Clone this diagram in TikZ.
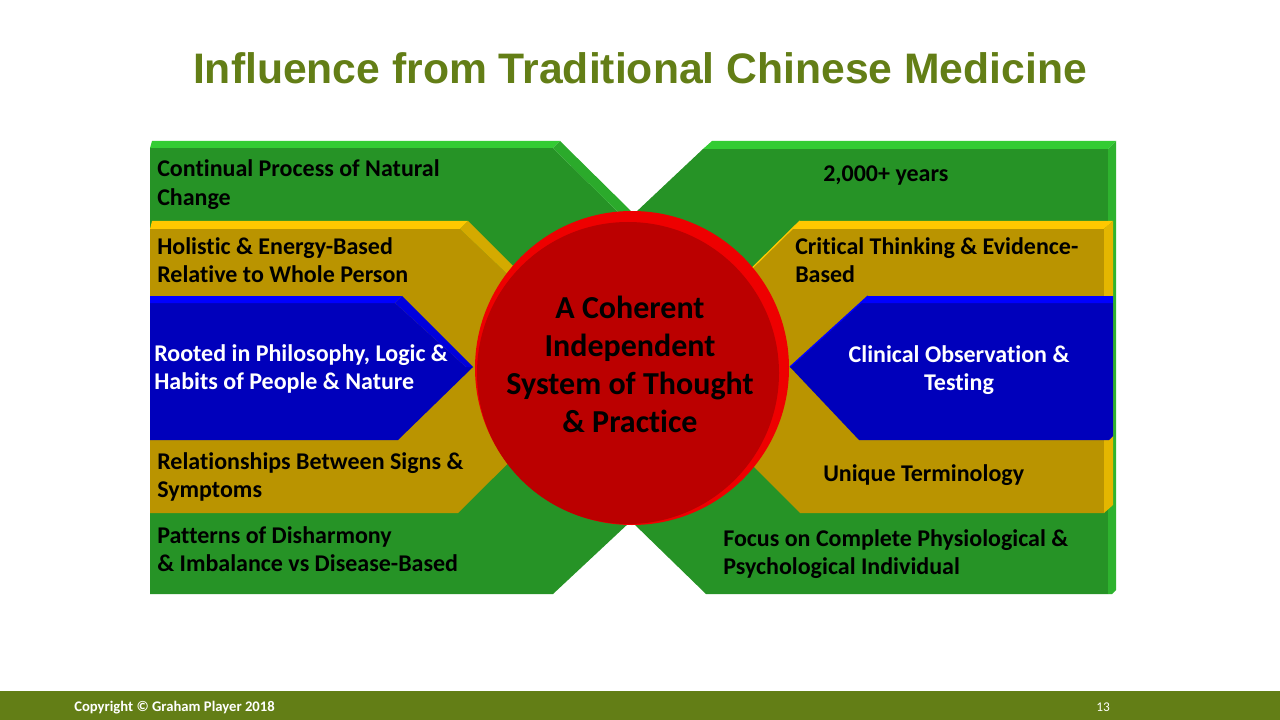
\documentclass[tikz,border=0pt]{standalone}
\usepackage{fontspec}
\setmainfont{Carlito}[Ligatures=NoCommon]
\newfontfamily\titlefont{Liberation Sans}
\definecolor{olive}{RGB}{99,126,22}
\definecolor{gface}{RGB}{38,147,38}
\definecolor{gtop}{RGB}{51,204,51}
\definecolor{gdiag}{RGB}{43,170,43}
\definecolor{gside}{RGB}{46,179,46}
\definecolor{yface}{RGB}{186,148,0}
\definecolor{ytop}{RGB}{255,200,0}
\definecolor{ydiag}{RGB}{212,170,0}
\definecolor{yside}{RGB}{228,182,0}
\definecolor{bface}{RGB}{0,0,187}
\definecolor{btop}{RGB}{0,0,255}
\definecolor{bdiag}{RGB}{0,0,221}
\definecolor{rrim}{RGB}{238,0,0}
\definecolor{rface}{RGB}{187,0,0}
\newcommand\linesL[1]{\begin{tabular}[t]{@{}l@{}}#1\end{tabular}}
\newcommand\linesC[1]{\begin{tabular}[t]{@{}c@{}}#1\end{tabular}}
\tikzset{
  boxtext/.style={anchor=base west, inner sep=0pt, text=black,
    font=\fontsize{18}{21.6}\selectfont\bfseries},
  boxtextw/.style={boxtext, text=white},
  centertext/.style={anchor=base, inner sep=0pt, text=black,
    font=\fontsize{24}{28.5}\selectfont\bfseries},
  titletext/.style={anchor=base, inner sep=0pt, text=olive,
    font=\titlefont\fontsize{32}{38}\selectfont\bfseries},
  foottext/.style={anchor=base west, inner sep=0pt, text=white,
    font=\fontsize{11}{13}\selectfont\bfseries},
}
\begin{document}
\begin{tikzpicture}[x=0.75pt,y=-0.75pt]
\useasboundingbox (0,0) rectangle (1280,720);
\fill[white] (0,0) rectangle (1280,720);

% title
\node[titletext] (title) at (640,84) {Influence from Traditional Chinese Medicine};

% left green
\fill[gface] (150,148) -- (553,148) -- (628,222) -- (632,368) -- (630,522) -- (553,594) -- (150,594) -- cycle;
\fill[gtop] (150,148) -- (152,141) -- (560,141) -- (553,148) -- cycle;
\fill[gdiag] (560,141) -- (633,213) -- (627,221) -- (553,148) -- cycle;

% right green
\fill[gface] (703,149) -- (1108,149) -- (1108,594) -- (706,594) -- (632,522) -- (632,368) -- (635,213) -- cycle;
\fill[gtop] (712,141) -- (1116,141) -- (1108,149) -- (703,149) -- cycle;
\fill[gside] (1108,149) -- (1116,141) -- (1116,590) -- (1112,594) -- (1108,594) -- cycle;

% left gold
\fill[yface] (150,229) -- (460,229) -- (605,367) -- (458,513) -- (150,513) -- cycle;
\fill[ytop] (150,229) -- (152,221) -- (468,221) -- (460,229) -- cycle;
\fill[ydiag] (468,221) -- (614,367) -- (605,367) -- (460,229) -- cycle;

% right gold
\fill[yface] (792,229) -- (1104,229) -- (1104,513) -- (800,513) -- (654,367) -- cycle;
\fill[ytop] (800,221) -- (1113,221) -- (1104,229) -- (792,229) -- cycle;
\fill[yside] (1104,229) -- (1113,221) -- (1113,505) -- (1104,513) -- cycle;
\draw[ytop, line width=1pt] (800,221) -- (740,280);

% left blue
\fill[bface] (150,303) -- (395,303) -- (466,367) -- (473,367) -- (398,440) -- (150,440) -- cycle;
\fill[btop] (150,303) -- (150,296) -- (402,296) -- (395,303) -- cycle;
\fill[bdiag] (402,296) -- (473,367) -- (466,367) -- (395,303) -- cycle;

% right blue
\fill[bface] (860,303) -- (1113,303) -- (1113,436) -- (1109,440) -- (859,440) -- (790,367) -- cycle;
\fill[btop] (868,296) -- (1113,296) -- (1113,303) -- (860,303) -- cycle;
\draw[btop, line width=1pt] (868,296) -- (790,367);

% central circle
\fill[rrim] (632,368) circle (157);
\fill[rface] (628,373) circle (151);

% texts
\node[boxtext] (t1) at (157,177) {\linesL{Continual Process of Natural\\Change}};
\node[boxtext] (t2) at (157,254) {\linesL{Holistic \& Energy-Based\\Relative to Whole Person}};
\node[boxtextw] (t3) at (154,361) {\linesL{Rooted in Philosophy, Logic \&\\Habits of People \& Nature}};
\node[boxtext] (t4) at (157,469) {\linesL{Relationships Between Signs \&\\Symptoms}};
\node[boxtext] (t5) at (157,543) {\linesL{Patterns of Disharmony\\\& Imbalance vs Disease-Based}};

\node[boxtext] (t6) at (823,182) {2,000+ years};
\node[boxtext] (t7) at (795,254) {\linesL{Critical Thinking \& Evidence-\\Based}};
\node[boxtextw, anchor=base] (t8) at (959,362) {\linesC{Clinical Observation \&\\Testing}};
\node[boxtext] (t9) at (823,481) {Unique Terminology};
\node[boxtext] (t10) at (723,546) {\linesL{Focus on Complete Physiological \&\\Psychological Individual}};

\node[centertext] (center) at (630,318) {\linesC{A Coherent\\Independent\\System of Thought\\\& Practice}};

% footer
\fill[olive] (0,691) rectangle (1280,720);
\node[foottext] (copy) at (74,711) {Copyright \textcopyright\ Graham Player 2018};
\node[foottext, anchor=base, font=\fontsize{10}{12}\selectfont] (pagenum) at (1103,711) {13};
\end{tikzpicture}
\end{document}
